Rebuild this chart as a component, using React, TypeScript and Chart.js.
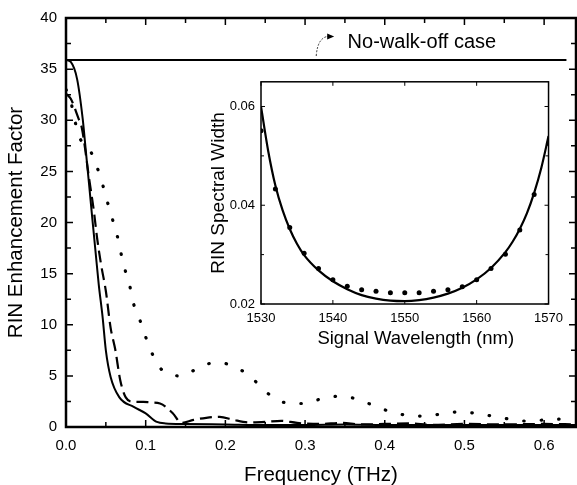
import React, { useEffect, useRef } from "react";
import { Chart, registerables } from "chart.js";

Chart.register(...registerables);

// ---------- main plot data ----------
const solidFreq = [0, 0.006, 0.014, 0.021, 0.025, 0.029, 0.033, 0.037, 0.041, 0.046, 0.05, 0.056, 0.067, 0.085, 0.1, 0.114, 0.125, 0.15, 0.2, 0.25, 0.3, 0.35, 0.4, 0.45, 0.5, 0.55, 0.6, 0.64];
const solidRin = [35.9, 35.7, 34.0, 30.1, 26.9, 23.7, 20.4, 17.2, 14.0, 10.7, 7.5, 4.9, 2.9, 1.97, 1.33, 0.5, 0.35, 0.3, 0.25, 0.2, 0.2, 0.25, 0.2, 0.2, 0.2, 0.2, 0.2, 0.2];

const dashedFreq = [0, 0.006, 0.016, 0.02, 0.029, 0.035, 0.039, 0.044, 0.05, 0.056, 0.062, 0.068, 0.075, 0.085, 0.097, 0.106, 0.118, 0.134, 0.145, 0.16, 0.176, 0.193, 0.21, 0.23, 0.25, 0.27, 0.29, 0.32, 0.345, 0.37, 0.4, 0.43, 0.46, 0.5, 0.55, 0.6, 0.64];
const dashedRin = [32.6, 32.1, 30.1, 29.2, 24.3, 21.1, 18.5, 15.9, 13.3, 9.7, 7.5, 4.6, 2.9, 2.46, 2.46, 2.4, 2.3, 1.35, 0.4, 0.7, 0.9, 1.0, 0.7, 0.45, 0.5, 0.6, 0.4, 0.3, 0.4, 0.25, 0.3, 0.35, 0.2, 0.3, 0.25, 0.3, 0.25];

const dottedFreq = [0, 0.004, 0.016, 0.03, 0.039, 0.046, 0.052, 0.058, 0.064, 0.069, 0.074, 0.08, 0.085, 0.093, 0.1, 0.108, 0.123, 0.146, 0.168, 0.189, 0.212, 0.233, 0.253, 0.274, 0.297, 0.318, 0.34, 0.362, 0.383, 0.405, 0.426, 0.447, 0.47, 0.491, 0.512, 0.535, 0.556, 0.578, 0.6, 0.622, 0.64];
const dottedRin = [33.0, 32.4, 28.5, 27.1, 25.4, 23.7, 22.0, 20.4, 18.8, 17.0, 15.4, 13.8, 12.0, 10.4, 8.8, 7.2, 5.4, 5.0, 5.9, 6.3, 5.9, 4.8, 3.3, 2.4, 2.3, 2.7, 3.0, 2.8, 2.2, 1.55, 1.17, 1.07, 1.26, 1.46, 1.36, 1.07, 0.78, 0.58, 0.68, 0.78, 0.75];

const noWalkOffFreq = [0, 0.628];
const noWalkOffRin = [35.9, 35.9];

const xTickValues = [0, 0.1, 0.2, 0.3, 0.4, 0.5, 0.6];
const yTickValues = [0, 5, 10, 15, 20, 25, 30, 35, 40];

// annotation (data units)
const noteText = "No-walk-off case";
const notePos = { x: 0.3534, y: 37.6 };
const arrowPts = [
  { x: 0.314, y: 36.28 },
  { x: 0.316, y: 38.4 },
  { x: 0.334, y: 38.2 },
];

// ---------- inset data ----------
const fitWavelength = [1530, 1531, 1532, 1533, 1534, 1535, 1536, 1538, 1540, 1542, 1544, 1546, 1548, 1550, 1552, 1554, 1556, 1558, 1560, 1562, 1564, 1565, 1566, 1567, 1568, 1569, 1570];
const fitWidth = [0.06, 0.051, 0.044, 0.039, 0.0352, 0.0322, 0.0299, 0.0268, 0.0246, 0.023, 0.0218, 0.0211, 0.0207, 0.0206, 0.0208, 0.0213, 0.0221, 0.0233, 0.025, 0.0273, 0.0305, 0.0326, 0.0352, 0.0384, 0.0425, 0.0476, 0.054];

const measWavelength = [1530, 1532, 1534, 1536, 1538, 1540, 1542, 1544, 1546, 1548, 1550, 1552, 1554, 1556, 1558, 1560, 1562, 1564, 1566, 1568, 1570];
const measWidth = [0.0551, 0.0433, 0.0355, 0.0303, 0.0272, 0.0249, 0.0236, 0.0229, 0.0226, 0.0223, 0.0223, 0.0223, 0.0226, 0.0229, 0.0235, 0.0249, 0.0272, 0.0301, 0.035, 0.0422, 0.0525];

const insetXTicks = [1530, 1540, 1550, 1560, 1570];
const insetYTicks = [0.02, 0.04, 0.06];
const insetXTitle = "Signal Wavelength (nm)";

const FONT = "'Liberation Sans', Arial, Helvetica, sans-serif";

const toPoints = (xs: number[], ys: number[]) => xs.map((x, i) => ({ x, y: ys[i] }));

function frameTicksPlugin(cfg: {
  xStep: number; xMajor: number; yStep: number; yMajor: number;
  majorLen: number; minorLen: number; frameWidth: number; tickWidth: number;
}) {
  return {
    id: "frameTicks",
    afterDraw(chart: any) {
      const { ctx, chartArea } = chart;
      const { left, right, top, bottom } = chartArea;
      const xs = chart.scales.x;
      const ys = chart.scales.y;
      ctx.save();
      ctx.strokeStyle = "#000";
      ctx.lineWidth = cfg.tickWidth;
      ctx.beginPath();
      const nx = Math.round((xs.max - xs.min) / cfg.xStep);
      for (let k = 0; k <= nx; k++) {
        const v = xs.min + k * cfg.xStep;
        const r = (v - xs.min) / cfg.xMajor;
        const isMajor = Math.abs(r - Math.round(r)) < 1e-6;
        const len = isMajor ? cfg.majorLen : cfg.minorLen;
        const px = xs.getPixelForValue(v);
        if (px > right + 0.5) continue;
        ctx.moveTo(px, bottom);
        ctx.lineTo(px, bottom - len);
        ctx.moveTo(px, top);
        ctx.lineTo(px, top + len);
      }
      const ny = Math.round((ys.max - ys.min) / cfg.yStep);
      for (let k = 0; k <= ny; k++) {
        const v = ys.min + k * cfg.yStep;
        const r = (v - ys.min) / cfg.yMajor;
        const isMajor = Math.abs(r - Math.round(r)) < 1e-6;
        const len = isMajor ? cfg.majorLen : cfg.minorLen;
        const py = ys.getPixelForValue(v);
        if (py < top - 0.5) continue;
        ctx.moveTo(left, py);
        ctx.lineTo(left + len, py);
        ctx.moveTo(right, py);
        ctx.lineTo(right - len, py);
      }
      ctx.stroke();
      ctx.lineWidth = cfg.frameWidth;
      ctx.strokeRect(left, top, right - left, bottom - top);
      ctx.restore();
    },
  };
}

const annotationPlugin = {
  id: "noteArrow",
  afterDraw(chart: any) {
    const { ctx } = chart;
    const xs = chart.scales.x;
    const ys = chart.scales.y;
    ctx.save();
    ctx.fillStyle = "#000";
    ctx.font = `20px ${FONT}`;
    ctx.textAlign = "left";
    ctx.textBaseline = "middle";
    ctx.fillText(noteText, xs.getPixelForValue(notePos.x), ys.getPixelForValue(notePos.y));
    const p = arrowPts.map((q) => ({ x: xs.getPixelForValue(q.x), y: ys.getPixelForValue(q.y) }));
    ctx.strokeStyle = "#333";
    ctx.lineWidth = 1;
    ctx.setLineDash([2, 1.5]);
    ctx.beginPath();
    ctx.moveTo(p[0].x, p[0].y);
    ctx.quadraticCurveTo(p[1].x, p[1].y, p[2].x, p[2].y);
    ctx.stroke();
    ctx.setLineDash([]);
    ctx.fillStyle = "#000";
    ctx.beginPath();
    ctx.moveTo(p[2].x + 2, p[2].y);
    ctx.lineTo(p[2].x - 5, p[2].y - 3);
    ctx.lineTo(p[2].x - 5, p[2].y + 3);
    ctx.closePath();
    ctx.fill();
    ctx.restore();
  },
};

const insetTitlePlugin = {
  id: "insetXTitle",
  afterDraw(chart: any) {
    const { ctx, chartArea } = chart;
    ctx.save();
    ctx.fillStyle = "#000";
    ctx.font = `18.5px ${FONT}`;
    ctx.textAlign = "center";
    ctx.textBaseline = "middle";
    ctx.fillText(insetXTitle, (chartArea.left + chartArea.right) / 2 + 11, chartArea.bottom + 35);
    ctx.restore();
  },
};

function MainChart() {
  const ref = useRef<HTMLCanvasElement | null>(null);
  useEffect(() => {
    if (!ref.current) return;
    const chart = new Chart(ref.current, {
      type: "line",
      data: {
        datasets: [
          {
            data: toPoints(noWalkOffFreq, noWalkOffRin),
            borderColor: "#000",
            borderWidth: 2,
            pointRadius: 0,
          },
          {
            data: toPoints(solidFreq, solidRin),
            borderColor: "#000",
            borderWidth: 2,
            pointRadius: 0,
            cubicInterpolationMode: "monotone",
          },
          {
            data: toPoints(dashedFreq, dashedRin),
            borderColor: "#000",
            borderWidth: 2.2,
            borderDash: [12, 6],
            pointRadius: 0,
            cubicInterpolationMode: "monotone",
          },
          {
            data: toPoints(dottedFreq, dottedRin),
            borderColor: "#000",
            borderWidth: 3.2,
            borderDash: [0.5, 17],
            borderCapStyle: "round",
            pointRadius: 0,
            cubicInterpolationMode: "monotone",
          },
        ] as any,
      },
      options: {
        animation: false,
        responsive: false,
        events: [],
        layout: { padding: { left: 0, right: 1, top: 15, bottom: 0 } },
        plugins: { legend: { display: false }, tooltip: { enabled: false } },
        scales: {
          x: {
            type: "linear",
            min: 0,
            max: 0.64,
            afterFit: (s: any) => { s.height = 58; },
            afterBuildTicks: (s: any) => { s.ticks = xTickValues.map((v) => ({ value: v })); },
            grid: { display: false, drawTicks: false },
            border: { display: false },
            ticks: {
              color: "#000",
              font: { family: FONT, size: 15 },
              padding: 10,
              maxRotation: 0,
              callback: (v: any) => Number(v).toFixed(1),
            },
            title: {
              display: true,
              text: "Frequency (THz)",
              color: "#000",
              font: { family: FONT, size: 20.5, lineHeight: 1 },
              padding: { top: 0, bottom: -0.5 },
            },
          },
          y: {
            type: "linear",
            min: 0,
            max: 40,
            afterFit: (s: any) => { s.width = 66; },
            afterBuildTicks: (s: any) => { s.ticks = yTickValues.map((v) => ({ value: v })); },
            grid: { display: false, drawTicks: false },
            border: { display: false },
            ticks: {
              color: "#000",
              font: { family: FONT, size: 15 },
              padding: 9,
              callback: (v: any) => String(v),
            },
            title: {
              display: true,
              text: "RIN Enhancement Factor",
              color: "#000",
              font: { family: FONT, size: 20.5, lineHeight: 1 },
              padding: { top: 6.5, bottom: 0 },
            },
          },
        },
      } as any,
      plugins: [
        frameTicksPlugin({ xStep: 0.05, xMajor: 0.1, yStep: 2.5, yMajor: 5, majorLen: 7, minorLen: 5, frameWidth: 2.5, tickWidth: 1.5 }),
        annotationPlugin,
      ] as any,
    });
    return () => chart.destroy();
  }, []);
  return <canvas ref={ref} width={577} height={485} style={{ position: "absolute", left: 0, top: 0, display: "block" }} />;
}

function InsetChart() {
  const ref = useRef<HTMLCanvasElement | null>(null);
  useEffect(() => {
    if (!ref.current) return;
    const chart = new Chart(ref.current, {
      type: "line",
      data: {
        datasets: [
          {
            data: toPoints(fitWavelength, fitWidth),
            borderColor: "#000",
            borderWidth: 2.2,
            pointRadius: 0,
            cubicInterpolationMode: "monotone",
          },
          {
            data: toPoints(measWavelength, measWidth),
            showLine: false,
            pointRadius: 2.5,
            pointBackgroundColor: "#000",
            pointBorderColor: "#000",
            pointBorderWidth: 0,
          },
        ] as any,
      },
      options: {
        animation: false,
        responsive: false,
        events: [],
        layout: { padding: { left: 0, right: 8, top: 7, bottom: 0 } },
        plugins: { legend: { display: false }, tooltip: { enabled: false } },
        scales: {
          x: {
            type: "linear",
            min: 1530,
            max: 1570,
            afterFit: (s: any) => { s.height = 54; },
            afterBuildTicks: (s: any) => { s.ticks = insetXTicks.map((v) => ({ value: v })); },
            grid: { display: false, drawTicks: false },
            border: { display: false },
            ticks: {
              color: "#000",
              font: { family: FONT, size: 13 },
              padding: 7,
              maxRotation: 0,
              callback: (v: any) => String(v),
            },
            title: { display: false },
          },
          y: {
            type: "linear",
            min: 0.02,
            max: 0.065,
            afterFit: (s: any) => { s.width = 66; },
            afterBuildTicks: (s: any) => { s.ticks = insetYTicks.map((v) => ({ value: v })); },
            grid: { display: false, drawTicks: false },
            border: { display: false },
            ticks: {
              color: "#000",
              font: { family: FONT, size: 13 },
              padding: 6,
              callback: (v: any) => Number(v).toFixed(2),
            },
            title: {
              display: true,
              text: "RIN Spectral Width",
              color: "#000",
              font: { family: FONT, size: 19, lineHeight: 1 },
              padding: { top: 14.5, bottom: 0 },
            },
          },
        },
      } as any,
      plugins: [
        frameTicksPlugin({ xStep: 10, xMajor: 10, yStep: 0.01, yMajor: 0.02, majorLen: 4, minorLen: 3, frameWidth: 1.5, tickWidth: 1 }),
        insetTitlePlugin,
      ] as any,
    });
    return () => chart.destroy();
  }, []);
  return <canvas ref={ref} width={375} height={290} style={{ position: "absolute", left: 195, top: 68, display: "block" }} />;
}

export default function App() {
  return (
    <div style={{ position: "absolute", left: 0, top: 0, width: 577, height: 485, background: "#fff", overflow: "hidden" }}>
      <MainChart />
      <InsetChart />
    </div>
  );
}
